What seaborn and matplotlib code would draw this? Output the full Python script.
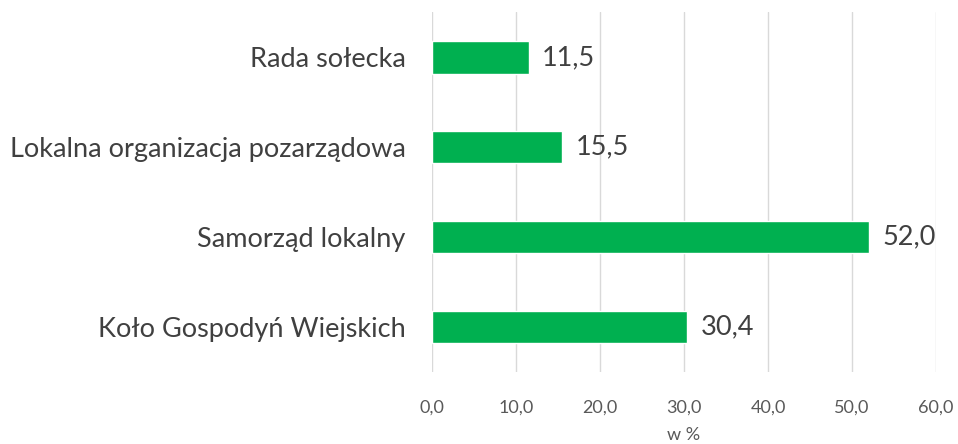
import pandas as pd
import matplotlib.pyplot as plt
import seaborn as sns

categories = ["Rada sołecka", "Lokalna organizacja pozarządowa", "Samorząd lokalny", "Koło Gospodyń Wiejskich"]
values = [11.5, 15.5, 52.0, 30.4]
ticks = [0, 10, 20, 30, 40, 50, 60]

df = pd.DataFrame({"kategoria": categories, "wartosc": values})

sns.set_style("white")
plt.rcParams["font.family"] = ["Lato", "DejaVu Sans"]

fig = plt.figure(figsize=(9.58, 4.44), dpi=100)
ax = fig.add_axes([0.451, 0.162, 0.526, 0.81])

sns.barplot(data=df, y="kategoria", x="wartosc", color="#00B050", saturation=1, width=0.36, ax=ax)

for i, v in enumerate(values):
    ax.text(v + 1.6, i, f"{v:.1f}".replace(".", ","), va="center", ha="left", fontsize=19.5, color="#404040")

ax.set_xlim(0, 60)
ax.set_xticks(ticks)
ax.set_xticklabels([f"{t:.1f}".replace(".", ",") for t in ticks], fontsize=13, color="#595959")
ax.tick_params(axis="y", labelsize=19.5, labelcolor="#404040", length=0, pad=19)
ax.tick_params(axis="x", length=0, pad=20)
ax.grid(axis="x", color="#D9D9D9", linewidth=1)
ax.set_axisbelow(True)
for s in ax.spines.values():
    s.set_visible(False)
ax.set_ylabel("")
ax.set_xlabel("w %", fontsize=13, color="#595959", labelpad=8)

fig.savefig("out.png", dpi=100)
